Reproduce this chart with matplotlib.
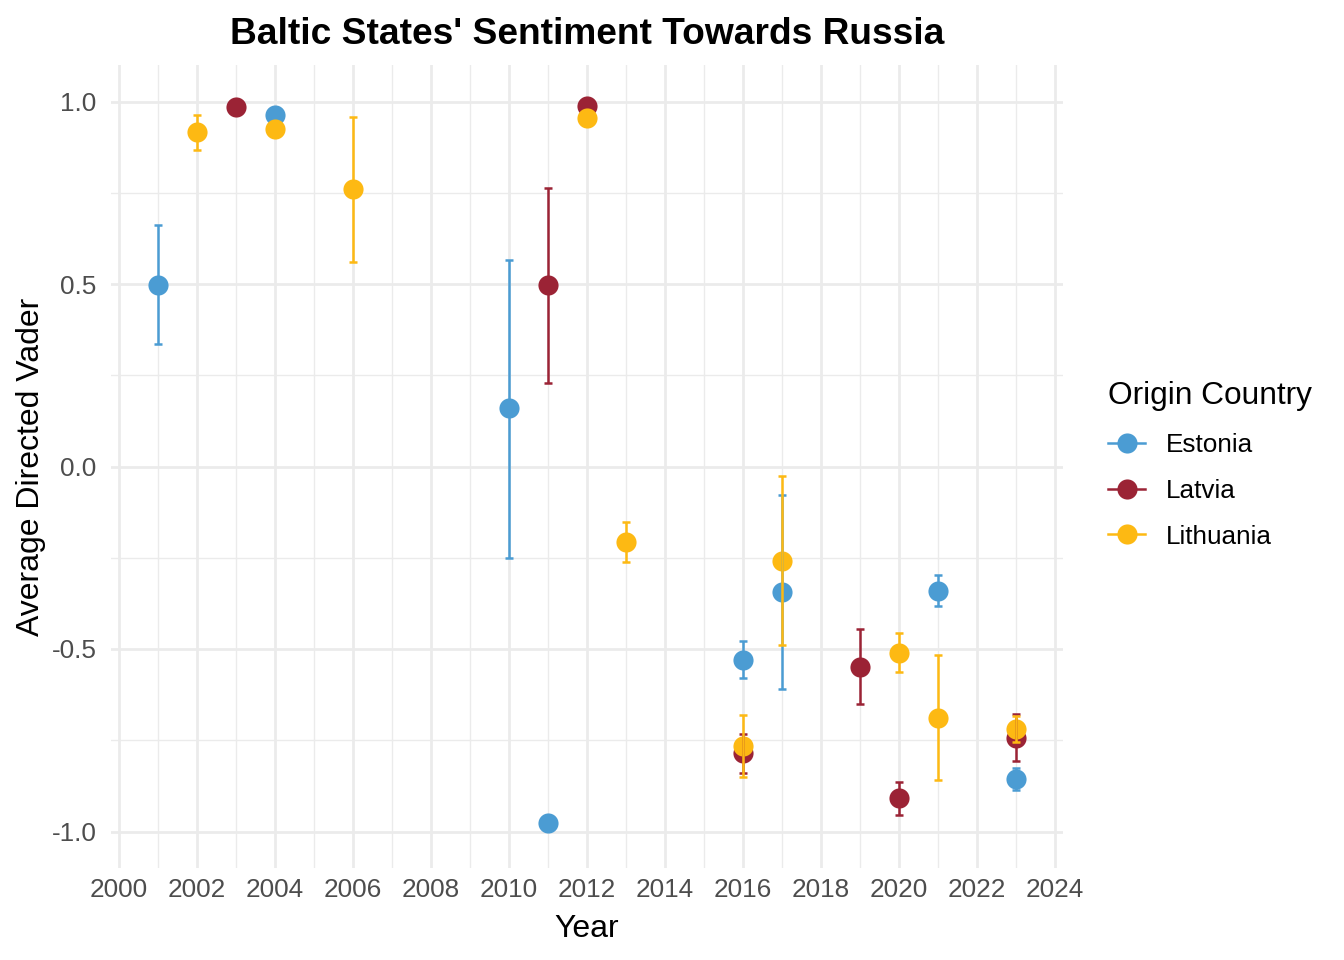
import numpy as np
import matplotlib
matplotlib.use("Agg")
import matplotlib.pyplot as plt
from matplotlib.lines import Line2D
from matplotlib.ticker import MultipleLocator, FuncFormatter

plt.rcParams['font.family'] = ['Liberation Sans', 'DejaVu Sans']
plt.rcParams['axes.unicode_minus'] = False

countries = ["Estonia", "Latvia", "Lithuania"]
colors = {"Estonia": "#4B9CD3", "Latvia": "#9B2335", "Lithuania": "#FDB913"}

est_years = [2001, 2004, 2010, 2011, 2016, 2017, 2021, 2023]
est_mean = [0.498, 0.962, 0.159, -0.978, -0.529, -0.343, -0.340, -0.856]
est_lo = [0.335, np.nan, -0.251, np.nan, -0.580, -0.609, -0.382, -0.887]
est_hi = [0.661, np.nan, 0.567, np.nan, -0.479, -0.077, -0.298, -0.826]

lat_years = [2003, 2011, 2012, 2016, 2019, 2020, 2023]
lat_mean = [0.986, 0.497, 0.989, -0.785, -0.548, -0.909, -0.745]
lat_lo = [np.nan, 0.228, np.nan, -0.839, -0.651, -0.954, -0.808]
lat_hi = [np.nan, 0.762, np.nan, -0.732, -0.445, -0.864, -0.679]

lit_years = [2002, 2004, 2006, 2012, 2013, 2016, 2017, 2020, 2021, 2023]
lit_mean = [0.916, 0.925, 0.759, 0.955, -0.206, -0.765, -0.258, -0.510, -0.688, -0.719]
lit_lo = [0.867, np.nan, 0.559, np.nan, -0.262, -0.850, -0.489, -0.564, -0.860, -0.755]
lit_hi = [0.964, np.nan, 0.958, np.nan, -0.151, -0.680, -0.026, -0.456, -0.516, -0.684]

data = {
    "Estonia": (est_years, est_mean, est_lo, est_hi),
    "Latvia": (lat_years, lat_mean, lat_lo, lat_hi),
    "Lithuania": (lit_years, lit_mean, lit_lo, lit_hi),
}

fig = plt.figure(figsize=(13.44, 9.6), dpi=100)
ax = fig.add_axes([111/1344, (960-868)/960, 952/1344, 803/960])

ms = 14.5
# points first
for c in countries:
    yrs, m, lo, hi = data[c]
    ax.plot(yrs, m, 'o', color=colors[c], ms=ms, mew=0, zorder=3)
# error bars on top
for c in countries:
    yrs, m, lo, hi = data[c]
    yrs = np.array(yrs, float); m = np.array(m); lo = np.array(lo); hi = np.array(hi)
    ok = ~np.isnan(lo)
    ax.errorbar(yrs[ok], m[ok], yerr=[m[ok]-lo[ok], hi[ok]-m[ok]], fmt='none',
                ecolor=colors[c], elinewidth=1.8, capsize=2.6, capthick=1.8, zorder=4)

ax.set_xlim(1999.8, 2024.2)
ax.set_ylim(-1.1, 1.1)
ax.xaxis.set_major_locator(MultipleLocator(2))
ax.xaxis.set_minor_locator(MultipleLocator(1))
ax.yaxis.set_major_locator(MultipleLocator(0.5))
ax.yaxis.set_minor_locator(MultipleLocator(0.25))
ax.xaxis.set_major_formatter(FuncFormatter(lambda v, p: f"{int(round(v))}"))
ax.yaxis.set_major_formatter(FuncFormatter(lambda v, p: f"{v:.1f}"))

ax.grid(which='major', color='#EBEBEB', lw=1.95, zorder=0)
ax.grid(which='minor', color='#EBEBEB', lw=1.0, zorder=0)
ax.set_axisbelow(True)
for s in ax.spines.values():
    s.set_visible(False)
ax.tick_params(which='both', length=0, labelsize=18.8, labelcolor='#4D4D4D')
ax.tick_params(axis='y', pad=10.5)
ax.tick_params(axis='x', pad=7.5)

ax.set_xlabel("Year", fontsize=23, labelpad=8.5)
ax.set_ylabel("Average Directed Vader", fontsize=23, labelpad=4)
ax.set_title("Baltic States' Sentiment Towards Russia", fontsize=26.7, fontweight='bold', pad=15)

handles = [Line2D([0], [0], color=colors[c], lw=1.8, marker='o', ms=ms, mew=0) for c in countries]
leg = fig.legend(handles, countries, loc='center left', bbox_to_anchor=(1098/1344, 1-465/960),
                 frameon=False, fontsize=18.8, title="Origin Country", title_fontsize=22.8,
                 handlelength=1.4, handletextpad=0.8, labelspacing=0.83, borderaxespad=0)
leg._legend_box.align = "left"

fig.savefig("out.png", dpi=100)
